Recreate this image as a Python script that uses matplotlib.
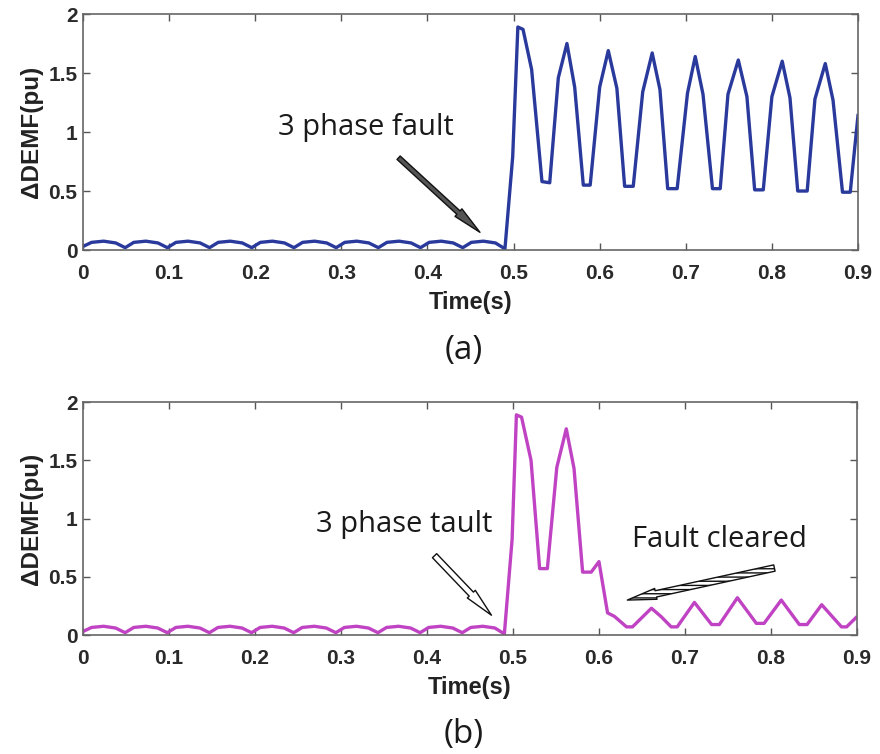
import matplotlib.pyplot as plt

# pre-fault ripple (both cases)
t_pre = [0.000, 0.010, 0.024, 0.038,
         0.049, 0.059, 0.073, 0.087,
         0.098, 0.108, 0.122, 0.136,
         0.147, 0.157, 0.171, 0.185,
         0.196, 0.206, 0.220, 0.234,
         0.245, 0.255, 0.269, 0.283,
         0.294, 0.304, 0.318, 0.332,
         0.343, 0.353, 0.367, 0.381,
         0.392, 0.402, 0.416, 0.430,
         0.441, 0.451, 0.465, 0.479,
         0.490]
v_pre_a = [0.03, 0.065, 0.075, 0.06,
           0.02, 0.065, 0.075, 0.06,
           0.02, 0.065, 0.075, 0.06,
           0.02, 0.065, 0.075, 0.06,
           0.02, 0.065, 0.075, 0.06,
           0.02, 0.065, 0.075, 0.06,
           0.02, 0.065, 0.075, 0.06,
           0.02, 0.065, 0.075, 0.06,
           0.02, 0.065, 0.075, 0.06,
           0.02, 0.065, 0.075, 0.06,
           0.01]
v_pre_b = [0.03, 0.065, 0.075, 0.06,
           0.02, 0.065, 0.075, 0.06,
           0.02, 0.065, 0.075, 0.06,
           0.02, 0.065, 0.075, 0.06,
           0.02, 0.065, 0.075, 0.06,
           0.02, 0.065, 0.075, 0.06,
           0.02, 0.065, 0.075, 0.06,
           0.02, 0.065, 0.075, 0.06,
           0.02, 0.065, 0.075, 0.06,
           0.02, 0.065, 0.075, 0.06,
           0.01]

# (a) sustained 3 phase fault
t_post_a = [0.499, 0.505, 0.511, 0.521, 0.533, 0.542, 0.552, 0.562, 0.571, 0.581,
            0.589, 0.600, 0.610, 0.620, 0.629, 0.639, 0.650, 0.661, 0.670, 0.679,
            0.690, 0.702, 0.711, 0.720, 0.731, 0.740, 0.749, 0.761, 0.771, 0.780,
            0.790, 0.800, 0.812, 0.821, 0.830, 0.841, 0.850, 0.862, 0.871, 0.882,
            0.891, 0.900]
v_post_a = [0.79, 1.89, 1.87, 1.53, 0.58, 0.57, 1.46, 1.75, 1.38, 0.55,
            0.55, 1.38, 1.69, 1.37, 0.54, 0.54, 1.34, 1.67, 1.36, 0.52,
            0.52, 1.33, 1.64, 1.32, 0.52, 0.52, 1.32, 1.61, 1.30, 0.51,
            0.51, 1.30, 1.60, 1.29, 0.50, 0.50, 1.28, 1.58, 1.27, 0.49,
            0.49, 1.14]

# (b) fault cleared at ~0.6 s
t_post_b = [0.499, 0.504, 0.510, 0.521, 0.531, 0.540, 0.551, 0.562, 0.571, 0.581,
            0.591, 0.600, 0.610, 0.618, 0.632, 0.639, 0.661, 0.672, 0.684, 0.691,
            0.711, 0.731, 0.740, 0.761, 0.783, 0.792, 0.812, 0.833, 0.842, 0.859,
            0.882, 0.888, 0.899]
v_post_b = [0.82, 1.89, 1.87, 1.50, 0.57, 0.57, 1.44, 1.77, 1.43, 0.54,
            0.54, 0.63, 0.19, 0.16, 0.07, 0.07, 0.23, 0.16, 0.07, 0.07,
            0.28, 0.09, 0.09, 0.32, 0.10, 0.10, 0.30, 0.09, 0.09, 0.26,
            0.07, 0.07, 0.15]

xticks = [0, 0.1, 0.2, 0.3, 0.4, 0.5, 0.6, 0.7, 0.8, 0.9]
xticklabels = ["0", "0.1", "0.2", "0.3", "0.4", "0.5", "0.6", "0.7", "0.8", "0.9"]
yticks = [0, 0.5, 1, 1.5, 2]
yticklabels = ["0", "0.5", "1", "1.5", "2"]

TICK_FONT = dict(family="Liberation Sans", weight="bold", size=15, color="#2a2a2a")
NOTE_FONT = ["Open Sans", "DejaVu Sans"]

fig = plt.figure(figsize=(8.8, 7.54), dpi=100)
ax1 = fig.add_axes([0.0943, 0.6684, 0.8807, 0.313])
ax2 = fig.add_axes([0.0943, 0.1578, 0.8795, 0.309])


def style(ax):
    ax.set_xlim(0, 0.9)
    ax.set_ylim(0, 2)
    ax.set_xticks(xticks)
    ax.set_xticklabels(xticklabels, fontdict=TICK_FONT)
    ax.set_yticks(yticks)
    ax.set_yticklabels(yticklabels, fontdict=TICK_FONT)
    ax.tick_params(direction="in", top=True, right=True, length=5,
                   color="#555555", width=1)
    ax.tick_params(axis="x", pad=10)
    ax.tick_params(axis="y", pad=4)
    for s in ax.spines.values():
        s.set_color("#666666")
        s.set_linewidth(1.2)
    ax.set_xlabel("Time(s)", family="Liberation Sans", weight="bold",
                  fontsize=17, labelpad=6, color="#222222")
    ax.set_ylabel("\u0394DEMF(pu)", family="Liberation Sans", weight="bold",
                  fontsize=17.5, labelpad=4, color="#222222")


ax1.plot(t_pre + t_post_a, v_pre_a + v_post_a, color="#2a3a9c", lw=2.4)
ax2.plot(t_pre + t_post_b, v_pre_b + v_post_b, color="#c043c3", lw=2.4)
style(ax1)
style(ax2)

ax1.annotate("3 phase fault", xy=(0.461, 0.15), xytext=(0.328, 1.04),
             ha="center", va="center", fontsize=21, family=NOTE_FONT,
             color="#1a1a1a",
             arrowprops=dict(arrowstyle="simple,head_length=1.0,head_width=0.35,tail_width=0.16",
                             fc="#555555", ec="#111111", lw=1,
                             shrinkA=14, shrinkB=0))

ax2.annotate("3 phase tault", xy=(0.475, 0.17), xytext=(0.374, 0.95),
             ha="center", va="center", fontsize=21, family=NOTE_FONT,
             color="#1a1a1a",
             arrowprops=dict(arrowstyle="simple,head_length=1.0,head_width=0.38,tail_width=0.2",
                             fc="white", ec="#111111", lw=1,
                             shrinkA=14, shrinkB=0))

ax2.annotate("Fault cleared", xy=(0.633, 0.30), xytext=(0.74, 0.82),
             ha="center", va="center", fontsize=21, family=NOTE_FONT,
             color="#1a1a1a")
ax2.annotate("", xy=(0.633, 0.30), xytext=(0.804, 0.575),
             arrowprops=dict(arrowstyle="simple,head_length=1.0,head_width=0.38,tail_width=0.22",
                             fc="white", ec="#111111", lw=1, hatch="----",
                             mutation_scale=21, shrinkA=0, shrinkB=0))

fig.text(0.527, 1 - 350 / 754, "(a)", ha="center", va="center",
         fontsize=24, family=NOTE_FONT, color="#1a1a1a")
fig.text(0.527, 1 - 735 / 754, "(b)", ha="center", va="center",
         fontsize=24, family=NOTE_FONT, color="#1a1a1a")

fig.savefig("out.png", dpi=100)
